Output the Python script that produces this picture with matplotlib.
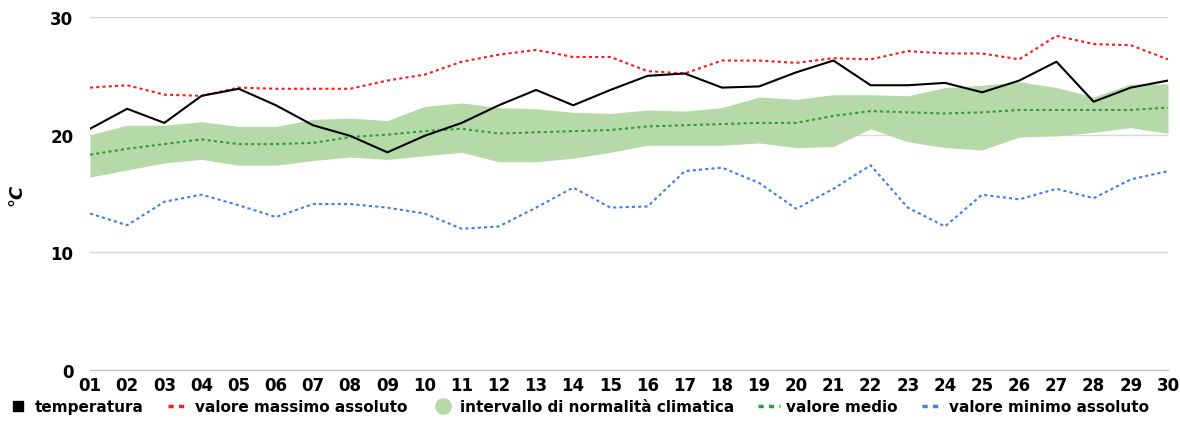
import matplotlib
matplotlib.use("Agg")
import matplotlib.pyplot as plt
from matplotlib.lines import Line2D

days = [f"{d:02d}" for d in range(1, 31)]
temperatura = [20.5,22.2,21.0,23.3,23.9,22.5,20.8,19.9,18.5,19.9,21.0,22.5,23.8,22.5,23.8,25.0,25.2,24.0,24.1,25.3,26.3,24.2,24.2,24.4,23.6,24.6,26.2,22.8,24.0,24.6]
massimo = [24.0,24.2,23.4,23.3,24.0,23.9,23.9,23.9,24.6,25.1,26.2,26.8,27.2,26.6,26.6,25.4,25.2,26.3,26.3,26.1,26.5,26.4,27.1,26.9,26.9,26.4,28.4,27.7,27.6,26.4]
medio = [18.3,18.8,19.2,19.6,19.2,19.2,19.3,19.8,20.0,20.3,20.5,20.1,20.2,20.3,20.4,20.7,20.8,20.9,21.0,21.0,21.6,22.0,21.9,21.8,21.9,22.1,22.1,22.1,22.1,22.3]
norm_sup = [20.0,20.8,20.8,21.1,20.7,20.7,21.3,21.4,21.2,22.4,22.7,22.3,22.2,21.9,21.8,22.1,22.0,22.3,23.2,23.0,23.4,23.4,23.3,24.0,24.2,24.5,24.0,23.2,24.3,24.3]
norm_inf = [16.4,17.0,17.6,17.9,17.4,17.4,17.8,18.1,17.9,18.2,18.5,17.7,17.7,18.0,18.5,19.1,19.1,19.1,19.3,18.9,19.0,20.5,19.4,18.9,18.7,19.8,19.9,20.2,20.6,20.1]
minimo = [13.3,12.3,14.3,14.9,14.0,13.0,14.1,14.1,13.8,13.3,12.0,12.2,13.8,15.5,13.8,13.9,16.9,17.2,15.9,13.7,15.4,17.4,13.8,12.2,14.9,14.5,15.4,14.6,16.2,16.9]

x = list(range(1, 31))
fig = plt.figure(figsize=(11.8, 4.27), dpi=100)
ax = fig.add_axes([90/1180, 56/427, 1078/1180, 353/427])
ax.fill_between(x, norm_inf, norm_sup, color="#b5d9a7", lw=0, zorder=1)
ax.plot(x, massimo, color="#ff1a1a", ls=(0, (1.5, 1.5)), lw=1.5, zorder=3)
ax.plot(x, medio, color="#2e9e3e", ls=(0, (1.5, 1.5)), lw=1.5, zorder=3)
ax.plot(x, minimo, color="#3f7fe8", ls=(0, (1.5, 1.5)), lw=1.5, zorder=3)
ax.plot(x, temperatura, color="black", lw=1.5, zorder=4)
ax.set_xlim(1, 30)
ax.set_ylim(0, 30)
ax.set_yticks([0, 10, 20, 30])
ax.set_xticks(x)
ax.set_xticklabels(days, fontsize=12, fontweight="bold")
for t in ax.get_yticklabels():
    t.set_fontsize(12); t.set_fontweight("bold")
ax.grid(axis="y", color="#d9d9d9", lw=1)
ax.set_axisbelow(True)
for s in ["top", "right", "left"]:
    ax.spines[s].set_visible(False)
ax.spines["bottom"].set_color("#bfbfbf")
ax.tick_params(axis="x", length=0, pad=4)
ax.tick_params(axis="y", length=0, pad=12)
ax.set_ylabel("°C", fontsize=13, fontweight="bold", style="italic", labelpad=18)

handles = [
    Line2D([], [], marker="s", color="black", ls="none", markersize=7),
    Line2D([], [], color="#ff1a1a", ls=(0, (1.5, 1.5)), lw=2.5),
    Line2D([], [], marker="o", color="#b5d9a7", ls="none", markersize=11),
    Line2D([], [], color="#2e9e3e", ls=(0, (1.5, 1.5)), lw=2.5),
    Line2D([], [], color="#3f7fe8", ls=(0, (1.5, 1.5)), lw=2.5),
]
labels = ["temperatura", "valore massimo assoluto", "intervallo di normalità climatica", "valore medio", "valore minimo assoluto"]
fig.legend(handles, labels, loc="lower center", bbox_to_anchor=(0.49, -0.005), ncol=5, frameon=False,
           prop={"weight": "bold", "size": 11}, handlelength=1.4, columnspacing=1.6, handletextpad=0.4)
fig.savefig("out.png", dpi=100)
